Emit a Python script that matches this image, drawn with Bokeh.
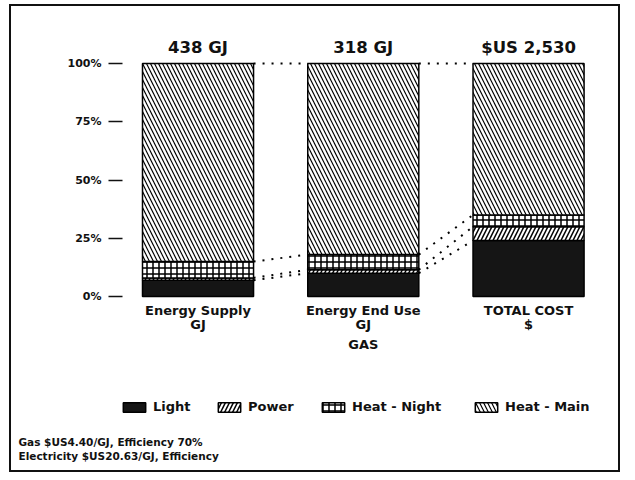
import numpy as np
from bokeh.plotting import figure
from bokeh.models import FixedTicker, Legend, LegendItem, Range1d, Title
from bokeh.core.properties import value
from bokeh.embed import file_html
from bokeh.resources import INLINE

# ---- data ----
categories = ["Energy Supply", "Energy End Use", "TOTAL COST"]
units = ["GJ", "GJ", "$"]
totals = ["438 GJ", "318 GJ", "$US 2,530"]
group_label = "GAS"
series_names = ["Light", "Power", "Heat - Night", "Heat - Main"]
light = [7.0, 10.0, 24.0]
power = [1.0, 1.5, 6.0]
heat_night = [7.0, 6.5, 5.0]
heat_main = [85.0, 82.0, 65.0]
y_ticks = [0, 25, 50, 75, 100]
y_tick_labels = ["0%", "25%", "50%", "75%", "100%"]
notes = ["Gas $US4.40/GJ, Efficiency 70%", "Electricity $US20.63/GJ, Efficiency"]

# ---- layout / style ----
FONT_NAME = "DejaVu Sans"
FONT = value(FONT_NAME)
BAR_W = 0.672
xs = list(range(1, len(categories) + 1))
series = [light, power, heat_night, heat_main]
styles = [
    dict(fill_color="#151515", hatch_pattern=None),
    dict(fill_color="white", hatch_pattern="right_diagonal_line", hatch_scale=8, hatch_weight=1.5),
    dict(fill_color="white", hatch_pattern="cross", hatch_scale=6, hatch_weight=1.5),
    dict(fill_color="white", hatch_pattern="left_diagonal_line", hatch_scale=8, hatch_weight=1.2),
]

p = figure(width=611, height=468,
           x_range=Range1d(0.543, 3.508), y_range=Range1d(-58.8, 124.5),
           output_backend="svg", toolbar_location=None,
           x_axis_location=None,
           min_border_left=111, min_border_right=10,
           min_border_top=0, min_border_bottom=41)
p.styles = {"border": "2px solid #111", "margin": "4px 0 0 9px"}
p.grid.visible = False
p.outline_line_color = None

stack = np.vstack([np.array(s) for s in series])
tops = np.cumsum(stack, axis=0)
bottoms = tops - stack

renderers = []
for i, name in enumerate(series_names):
    st = {k: v for k, v in styles[i].items() if v is not None}
    r = p.vbar(x=xs, width=BAR_W, bottom=bottoms[i], top=tops[i],
               line_color="black", line_width=1.5, hatch_color="black", **st)
    renderers.append(r)

# dotted connectors between adjacent bars at stack boundaries
x0, y0, x1, y1 = [], [], [], []
for j in range(len(xs) - 1):
    for i in range(len(series_names)):
        x0.append(xs[j] + BAR_W / 2)
        x1.append(xs[j + 1] - BAR_W / 2)
        y0.append(tops[i][j])
        y1.append(tops[i][j + 1])
p.segment(x0=x0, y0=y0, x1=x1, y1=y1, line_color="black", line_width=2,
          line_dash="2 7")

# labels
p.text(x=xs, y=[106.9] * len(xs), text=totals, text_align="center", text_baseline="middle",
       text_font=FONT, text_font_style="bold", text_font_size="16.5px", text_color="#111")
p.text(x=xs, y=[-6.0] * len(xs), text=categories, text_align="center", text_baseline="middle",
       text_font=FONT, text_font_style="bold", text_font_size="13px", text_color="#111")
p.text(x=xs, y=[-12.0] * len(xs), text=units, text_align="center", text_baseline="middle",
       text_font=FONT, text_font_style="bold", text_font_size="13px", text_color="#111")
p.text(x=[xs[1]], y=[-20.6], text=[group_label], text_align="center", text_baseline="middle",
       text_font=FONT, text_font_style="bold", text_font_size="13px", text_color="#111")

# y axis
ax = p.yaxis[0]
ax.ticker = FixedTicker(ticks=y_ticks)
ax.major_label_overrides = {t: l for t, l in zip(y_ticks, y_tick_labels)}
ax.axis_line_color = None
ax.minor_tick_line_color = None
ax.major_tick_in = 0
ax.major_tick_out = 14
ax.major_tick_line_width = 1.5
ax.major_tick_line_color = "#111"
ax.major_label_standoff = 7
ax.major_label_text_font = FONT_NAME
ax.major_label_text_font_style = "bold"
ax.major_label_text_font_size = "11px"
ax.major_label_text_color = "#111"

# legends (one per item, positioned like the original)
leg_x = [-2, 93, 197, 350]
for r, name, lx in zip(renderers, series_names, leg_x):
    leg = Legend(items=[LegendItem(label=name, renderers=[r])], location=(lx, 19),
                 orientation="horizontal", padding=0, margin=0, spacing=0,
                 border_line_color=None, background_fill_alpha=0,
                 glyph_width=28, glyph_height=12, label_height=12, label_standoff=5,
                 label_text_font=FONT_NAME, label_text_font_style="bold",
                 label_text_font_size="13px", label_text_color="#111")
    p.add_layout(leg)

# footnotes below the frame
for txt in notes:
    p.add_layout(Title(text=txt, align="left", offset=-104, standoff=0,
                       text_font=FONT_NAME, text_font_style="bold",
                       text_font_size="10.5px", text_line_height=0.85,
                       text_color="#111"), "below")

open("out.html", "w").write(file_html(p, INLINE))
